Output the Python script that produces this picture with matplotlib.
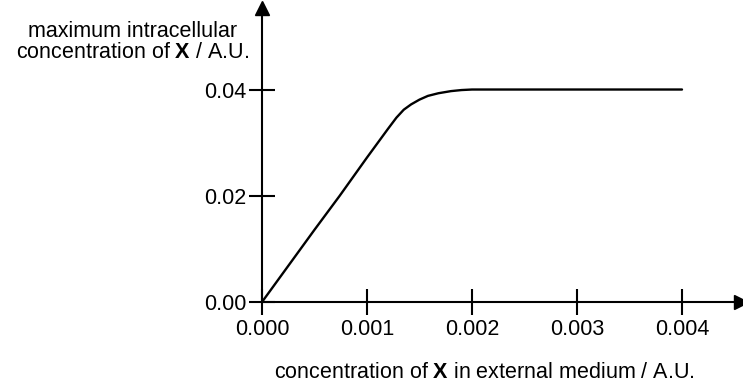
import matplotlib
matplotlib.use("Agg")
import matplotlib.pyplot as plt

plt.rcParams['font.family'] = ['Liberation Sans', 'DejaVu Sans']
plt.rcParams['mathtext.fontset'] = 'custom'
plt.rcParams['mathtext.rm'] = 'Liberation Sans'
plt.rcParams['mathtext.bf'] = 'Liberation Sans:bold'

# data
external_conc = [0.0, 0.0005, 0.00074, 0.001, 0.0012, 0.00128, 0.00135, 0.00142, 0.0015,
                 0.00158, 0.00168, 0.0018, 0.0019, 0.002, 0.0025, 0.003, 0.004]
intracellular_max = [0.0, 0.0136, 0.0200, 0.0272, 0.0326, 0.0347, 0.0362, 0.0372, 0.0381,
                     0.0388, 0.0393, 0.0397, 0.0399, 0.0400, 0.0400, 0.0400, 0.0400]
x_ticks = [0.000, 0.001, 0.002, 0.003, 0.004]
x_tick_labels = ["0.000", "0.001", "0.002", "0.003", "0.004"]
y_ticks = [0.00, 0.02, 0.04]
y_tick_labels = ["0.00", "0.02", "0.04"]

W, H = 743, 390
fig = plt.figure(figsize=(W / 100, H / 100), dpi=100)
x0, y0 = 262, 302
x1, y1 = 741, 8
ax = fig.add_axes([x0 / W, 1 - y0 / H, (x1 - x0) / W, (y0 - y1) / H])

ax.plot(external_conc, intracellular_max, color='black', lw=1.7,
        solid_joinstyle='round', solid_capstyle='round')

ax.set_xlim(0, (x1 - x0) / 105 * 0.001)
ax.set_ylim(0, (y0 - y1) / 5312)

for s in ['top', 'right']:
    ax.spines[s].set_visible(False)
for s in ['left', 'bottom']:
    ax.spines[s].set_linewidth(1.5)

ax.plot(1, 0, marker='>', color='black', markersize=10, transform=ax.transAxes, clip_on=False)
ax.plot(0, 1, marker='^', color='black', markersize=10, transform=ax.transAxes, clip_on=False)

ax.set_xticks(x_ticks)
ax.set_xticklabels(x_tick_labels)
ax.set_yticks(y_ticks)
ax.set_yticklabels(y_tick_labels)
ax.tick_params(direction='inout', length=19, width=1.5, labelsize=15.5)
ax.tick_params(axis='x', pad=3)
ax.tick_params(axis='y', pad=2)

fig.text(484 / W, 1 - 372 / H, r"concentration of $\mathbf{X}$ in external medium / A.U.",
         ha='center', va='center', fontsize=15.5)
fig.text(133 / W, 1 - 42 / H, "maximum intracellular\nconcentration of $\\mathbf{X}$ / A.U.",
         ha='center', va='center', fontsize=15.5, linespacing=1.05, multialignment='center')

fig.savefig("out.png", dpi=100)
